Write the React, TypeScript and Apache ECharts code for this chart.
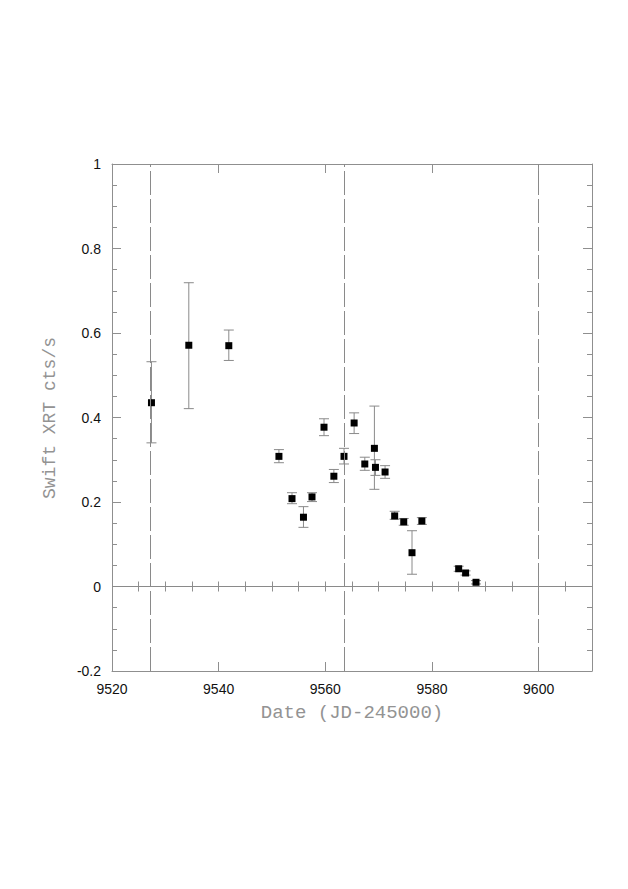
import React, { useEffect, useRef } from "react";
import * as echarts from "echarts";

// Observation dates (JD-245000)
const dates = [
  9527.4, 9534.4, 9541.9, 9551.3, 9553.75, 9555.9, 9557.5, 9559.75, 9561.6,
  9563.5, 9565.4, 9567.4, 9569.2, 9569.4, 9571.2, 9573.0, 9574.7, 9576.25,
  9578.1, 9585.0, 9586.3, 9588.25,
];
// Swift XRT count rates (cts/s)
const rates = [
  0.435, 0.571, 0.57, 0.308, 0.208, 0.164, 0.212, 0.377, 0.261,
  0.308, 0.387, 0.29, 0.327, 0.282, 0.271, 0.167, 0.153, 0.08,
  0.155, 0.042, 0.032, 0.01,
];
// Lower / upper ends of the error bars
const rateLow = [
  0.34, 0.421, 0.535, 0.293, 0.196, 0.14, 0.201, 0.357, 0.246,
  0.29, 0.362, 0.275, 0.23, 0.263, 0.256, 0.159, 0.145, 0.029,
  0.147, 0.036, 0.027, 0.006,
];
const rateHigh = [
  0.532, 0.719, 0.607, 0.324, 0.222, 0.189, 0.222, 0.397, 0.277,
  0.327, 0.411, 0.306, 0.427, 0.3, 0.286, 0.178, 0.161, 0.132,
  0.163, 0.048, 0.037, 0.014,
];
// Dashed reference epochs
const dashedDates = [9527.2, 9563.6, 9600];

const xTitle = "Date (JD-245000)";
const yTitle = "Swift XRT cts/s";

const frameColor = "#8f8f8f";
const labelFont = "'Liberation Sans', Arial, Helvetica, sans-serif";
const titleFont = "'Liberation Mono', 'Courier New', monospace";

export default function App() {
  const ref = useRef<HTMLDivElement>(null);

  useEffect(() => {
    if (!ref.current) return;
    const chart = echarts.init(ref.current, null, { renderer: "svg" });

    const xBase = {
      type: "value" as const,
      min: 9520,
      max: 9610,
      splitLine: { show: false },
    };
    const yBase = {
      type: "value" as const,
      min: -0.2,
      max: 1,
      splitLine: { show: false },
    };
    const tickStyle = { color: frameColor, width: 1 };

    chart.setOption({
      animation: false,
      backgroundColor: "#ffffff",
      grid: { left: 112, top: 164, width: 480, height: 507, containLabel: false },
      xAxis: [
        {
          ...xBase,
          position: "bottom",
          interval: 20,
          axisLine: { show: true, onZero: false, lineStyle: { color: frameColor, width: 1 } },
          axisTick: { show: true, inside: true, length: 9, lineStyle: tickStyle },
          axisLabel: {
            show: true,
            margin: 11,
            fontSize: 14,
            color: "#111",
            fontFamily: labelFont,
            formatter: (v: number) => (v > 9605 ? "" : String(v)),
          },
        },
        {
          ...xBase,
          position: "bottom",
          interval: 5,
          axisLine: { show: false },
          axisTick: { show: true, inside: true, length: 5, lineStyle: tickStyle },
          axisLabel: { show: false },
        },
        {
          ...xBase,
          position: "top",
          interval: 20,
          axisLine: { show: true, onZero: false, lineStyle: { color: frameColor, width: 1 } },
          axisTick: { show: true, inside: true, length: 9, lineStyle: tickStyle },
          axisLabel: { show: false },
        },
        {
          ...xBase,
          position: "top",
          interval: 5,
          axisLine: { show: false },
          axisTick: { show: true, inside: true, length: 5, lineStyle: tickStyle },
          axisLabel: { show: false },
        },
      ],
      yAxis: [
        {
          ...yBase,
          position: "left",
          interval: 0.2,
          axisLine: { show: true, onZero: false, lineStyle: { color: frameColor, width: 1 } },
          axisTick: { show: true, inside: true, length: 9, lineStyle: tickStyle },
          axisLabel: {
            show: true,
            margin: 11,
            fontSize: 14,
            color: "#111",
            fontFamily: labelFont,
            formatter: (v: number) => String(Math.round(v * 10) / 10),
          },
        },
        {
          ...yBase,
          position: "left",
          interval: 0.05,
          axisLine: { show: false },
          axisTick: { show: true, inside: true, length: 5, lineStyle: tickStyle },
          axisLabel: { show: false },
        },
        {
          ...yBase,
          position: "right",
          interval: 0.2,
          axisLine: { show: true, onZero: false, lineStyle: { color: frameColor, width: 1 } },
          axisTick: { show: true, inside: true, length: 9, lineStyle: tickStyle },
          axisLabel: { show: false },
        },
        {
          ...yBase,
          position: "right",
          interval: 0.05,
          axisLine: { show: false },
          axisTick: { show: true, inside: true, length: 5, lineStyle: tickStyle },
          axisLabel: { show: false },
        },
      ],
      graphic: [
        {
          type: "text",
          x: 352,
          y: 713,
          style: {
            text: xTitle,
            fontFamily: titleFont,
            fontSize: 19,
            fill: "#939393",
            align: "center",
            verticalAlign: "middle",
          },
        },
        {
          type: "text",
          x: 50,
          y: 418,
          rotation: Math.PI / 2,
          style: {
            text: yTitle,
            fontFamily: titleFont,
            fontSize: 18,
            fill: "#939393",
            align: "center",
            verticalAlign: "middle",
          },
        },
      ],
      series: [
        {
          type: "custom",
          xAxisIndex: 0,
          yAxisIndex: 0,
          z: 2,
          silent: true,
          data: dates.map((d, i) => [d, rateLow[i], rateHigh[i]]),
          encode: { x: 0, y: [1, 2] },
          renderItem: (_params: any, api: any) => {
            const x = api.value(0);
            const lo = api.coord([x, api.value(1)]);
            const hi = api.coord([x, api.value(2)]);
            const cap = 5;
            const style = { stroke: "#8a8a8a", lineWidth: 1 };
            return {
              type: "group",
              children: [
                { type: "line", shape: { x1: lo[0], y1: lo[1], x2: hi[0], y2: hi[1] }, style },
                { type: "line", shape: { x1: lo[0] - cap, y1: lo[1], x2: lo[0] + cap, y2: lo[1] }, style },
                { type: "line", shape: { x1: hi[0] - cap, y1: hi[1], x2: hi[0] + cap, y2: hi[1] }, style },
              ],
            };
          },
        },
        {
          type: "scatter",
          xAxisIndex: 0,
          yAxisIndex: 0,
          z: 3,
          symbol: "rect",
          symbolSize: 7,
          itemStyle: { color: "#000", opacity: 1 },
          data: dates.map((d, i) => [d, rates[i]]),
          markLine: {
            silent: true,
            symbol: ["none", "none"],
            label: { show: false },
            data: [
              { yAxis: 0, lineStyle: { type: "solid", color: "#8a8a8a", width: 1 } },
              ...dashedDates.map((x) => ({
                xAxis: x,
                lineStyle: { type: [24, 4], color: "#8a8a8a", width: 1 },
              })),
            ],
          },
        },
      ],
    });

    return () => chart.dispose();
  }, []);

  return (
    <div
      ref={ref}
      style={{ position: "absolute", left: 0, top: 0, width: 628, height: 889, background: "#fff" }}
    />
  );
}
